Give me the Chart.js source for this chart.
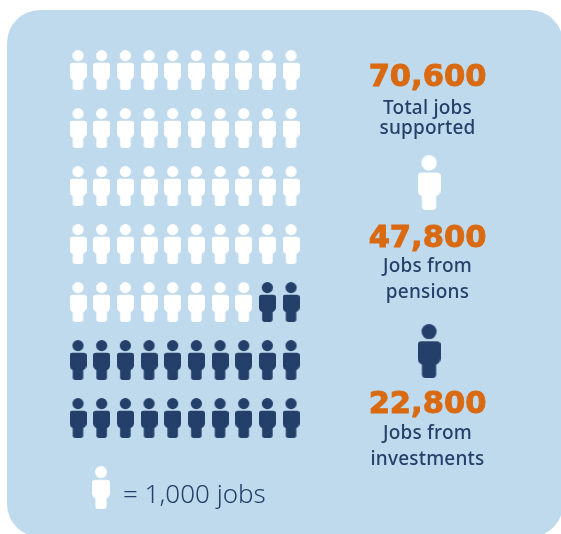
<!DOCTYPE html>
<html>
<head>
<meta charset="utf-8">
<style>
html, body { margin: 0; padding: 0; background: #fff; }
canvas { display: block; }
</style>
<script src="https://cdn.jsdelivr.net/npm/chart.js@4"></script>
</head>
<body>
<canvas id="jobs" width="561" height="534"></canvas>
<script>
// one icon = 1,000 jobs
var pensionIcons = 48;
var investmentIcons = 22;
var iconsPerRow = 10;
var totals = ["70,600", "47,800", "22,800"];
var captions = [["Total jobs", "supported"], ["Jobs from", "pensions"], ["Jobs from", "investments"]];
var legendText = "= 1,000 jobs";

var panelColor = "#bfdaec";
var navy = "#243f69";
var orange = "#d96a12";

// draws the little person, w and h are the size in pixels
var person = function(color, w, h) {
    var c = document.createElement("canvas");
    c.width = w;
    c.height = h;
    var ctx = c.getContext("2d");
    ctx.fillStyle = color;
    ctx.beginPath();
    ctx.arc(w / 2, h * 0.14, h * 0.14, 0, Math.PI * 2);
    ctx.fill();
    ctx.beginPath();
    ctx.roundRect(0, h * 0.32, w, h * 0.44, [w * 0.16, w * 0.16, w * 0.3, w * 0.3]);
    ctx.fill();
    ctx.beginPath();
    ctx.roundRect(w * 0.19, h * 0.5, w * 0.62, h * 0.5, w * 0.16);
    ctx.fill();
    return c;
};

// grid position of the nth icon, counted left to right, top to bottom
var gridPoint = function(n) {
    return { x: n % iconsPerRow, y: Math.floor(n / iconsPerRow) };
};

var whitePoints = [];
var navyPoints = [];
for (var i = 0; i < pensionIcons; i++) whitePoints.push(gridPoint(i));
for (var j = 0; j < investmentIcons; j++) navyPoints.push(gridPoint(pensionIcons + j));

var background = {
    id: "background",
    beforeDraw: function(chart) {
        var ctx = chart.ctx;
        ctx.save();
        ctx.fillStyle = panelColor;
        ctx.beginPath();
        ctx.roundRect(7, 10, 556, 527, 33);
        ctx.fill();
        ctx.restore();
    }
};

var texts = {
    id: "texts",
    afterDraw: function(chart) {
        var ctx = chart.ctx;
        var cx = 427.5;
        var tops = [[86, 114, 134], [247, 272, 298], [413, 439, 465]];
        ctx.save();
        ctx.textAlign = "center";
        ctx.textBaseline = "alphabetic";
        totals.forEach(function(t, i) {
            ctx.fillStyle = orange;
            ctx.strokeStyle = orange;
            ctx.lineWidth = 1;
            ctx.font = "bold 30.5px 'DejaVu Sans'";
            ctx.fillText(t, cx, tops[i][0]);
            ctx.strokeText(t, cx, tops[i][0]);
            ctx.fillStyle = navy;
            ctx.font = "500 19px 'Noto Sans'";
            ctx.letterSpacing = "0.2px";
            ctx.fillText(captions[i][0], cx, tops[i][1]);
            ctx.fillText(captions[i][1], cx, tops[i][2]);
            ctx.letterSpacing = "0px";
        });
        ctx.textAlign = "left";
        ctx.font = "300 26px 'Noto Sans'";
        ctx.fillText(legendText, 123, 503);
        ctx.restore();
    }
};

new Chart(document.getElementById("jobs"), {
    type: "scatter",
    data: {
        datasets: [
            { label: "Pensions", data: whitePoints, pointStyle: person("#fff", 17, 40) },
            { label: "Investments", data: navyPoints, pointStyle: person(navy, 17, 40) },
            // key icons beside the totals and under the grid
            { label: "Pensions key", data: [{ x: 14.83, y: 1.94 }], pointStyle: person("#fff", 23, 55) },
            { label: "Investments key", data: [{ x: 14.83, y: 4.845 }], pointStyle: person(navy, 23, 54) },
            { label: "Legend", data: [{ x: 0.97, y: 7.2 }], pointStyle: person("#fff", 18, 43) }
        ]
    },
    options: {
        responsive: false,
        animation: false,
        events: [],
        layout: { padding: 0, autoPadding: false },
        plugins: { legend: { display: false }, tooltip: { enabled: false } },
        scales: {
            x: { type: "linear", display: false, min: -78 / 23.67, max: (561 - 78) / 23.67 },
            y: { type: "linear", display: false, reverse: true, min: -70 / 58, max: (534 - 70) / 58 }
        }
    },
    plugins: [background, texts]
});
</script>
</body>
</html>
